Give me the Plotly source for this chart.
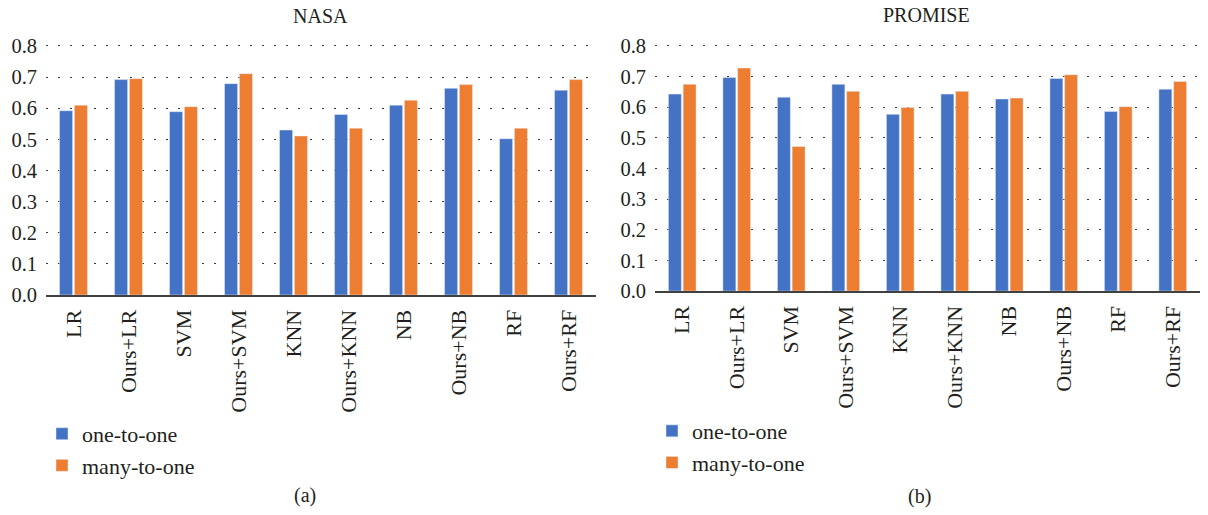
import plotly.graph_objects as go

# Classifier configurations on the x axis
categories = ["LR", "Ours+LR", "SVM", "Ours+SVM", "KNN", "Ours+KNN",
              "NB", "Ours+NB", "RF", "Ours+RF"]

# NASA results
nasa_one_to_one = [0.592, 0.692, 0.589, 0.679, 0.530, 0.580, 0.610, 0.664, 0.502, 0.658]
nasa_many_to_one = [0.610, 0.695, 0.605, 0.711, 0.511, 0.536, 0.626, 0.676, 0.536, 0.692]

# PROMISE results
promise_one_to_one = [0.643, 0.697, 0.633, 0.675, 0.577, 0.643, 0.627, 0.694, 0.586, 0.659]
promise_many_to_one = [0.675, 0.728, 0.472, 0.652, 0.599, 0.652, 0.630, 0.706, 0.602, 0.684]

y_ticks = [0.0, 0.1, 0.2, 0.3, 0.4, 0.5, 0.6, 0.7, 0.8]
y_tick_text = ["0.0", "0.1", "0.2", "0.3", "0.4", "0.5", "0.6", "0.7", "0.8"]

BLUE = "#4472C4"
ORANGE = "#ED7D31"
TEXT = "#231F20"
FONT = "Liberation Serif"
W, H = 1208, 515

fig = go.Figure()

fig.add_trace(go.Bar(x=categories, y=nasa_one_to_one, name="one-to-one",
                     marker_color=BLUE, xaxis="x", yaxis="y", legend="legend"))
fig.add_trace(go.Bar(x=categories, y=nasa_many_to_one, name="many-to-one",
                     marker_color=ORANGE, xaxis="x", yaxis="y", legend="legend"))
fig.add_trace(go.Bar(x=categories, y=promise_one_to_one, name="one-to-one",
                     marker_color=BLUE, xaxis="x2", yaxis="y2", legend="legend2"))
fig.add_trace(go.Bar(x=categories, y=promise_many_to_one, name="many-to-one",
                     marker_color=ORANGE, xaxis="x2", yaxis="y2", legend="legend2"))


def px_x(p):
    return p / W


def px_y(p):
    return (H - p) / H


YMAX = 0.82
# pixel rows of the zero line and the 0.8 tick for each panel
left_zero, left_top = 299.3, 42.3
right_zero, right_top = 295.3, 42.3
left_top_edge = left_zero - YMAX * (left_zero - left_top) / 0.8
right_top_edge = right_zero - YMAX * (right_zero - right_top) / 0.8

common_x = dict(
    type="category", showline=True, linecolor="#404040", linewidth=2,
    showgrid=False, ticks="", tickangle=-90,
    tickfont=dict(family=FONT, size=22, color=TEXT), ticklabelstandoff=4,
)
common_y = dict(
    range=[0, YMAX], tickvals=y_ticks, ticktext=y_tick_text,
    showgrid=True, gridcolor="#3a3a3a", gridwidth=1.1, griddash="2px,10px",
    zeroline=False, showline=False, ticks="",
    tickfont=dict(family=FONT, size=20.5, color=TEXT), ticklabelstandoff=8,
)


def label(text, x, y, size=20):
    return dict(text=text, x=px_x(x), y=px_y(y), xref="paper", yref="paper",
                xanchor="center", yanchor="middle", showarrow=False,
                font=dict(family=FONT, size=size, color=TEXT))


fig.update_layout(
    width=W, height=H,
    margin=dict(l=0, r=0, t=0, b=0),
    font=dict(family=FONT, color=TEXT),
    paper_bgcolor="white", plot_bgcolor="white",
    barmode="group", bargap=0.46, bargroupgap=0.12,
    xaxis=dict(domain=[px_x(46), px_x(596)], anchor="y", **common_x),
    yaxis=dict(domain=[px_y(left_zero), px_y(left_top_edge)], anchor="x", **common_y),
    xaxis2=dict(domain=[px_x(655), px_x(1200)], anchor="y2", **common_x),
    yaxis2=dict(domain=[px_y(right_zero), px_y(right_top_edge)], anchor="x2", **common_y),
    legend=dict(x=px_x(42), y=px_y(421), xanchor="left", yanchor="top",
                font=dict(family=FONT, size=22, color=TEXT),
                bgcolor="rgba(0,0,0,0)", tracegroupgap=0),
    legend2=dict(x=px_x(652), y=px_y(418), xanchor="left", yanchor="top",
                 font=dict(family=FONT, size=22, color=TEXT),
                 bgcolor="rgba(0,0,0,0)", tracegroupgap=0),
    annotations=[
        label("NASA", 320, 11),
        label("PROMISE", 927, 10),
        label("(a)", 305, 506),
        label("(b)", 919, 507),
    ],
)

fig.write_html("out.html")
